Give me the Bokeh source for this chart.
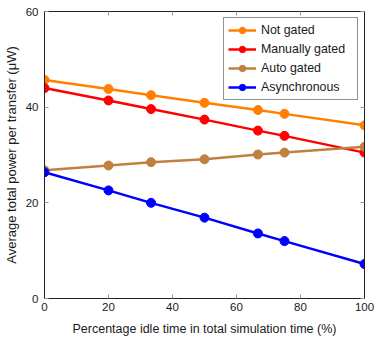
from bokeh.plotting import figure
from bokeh.models import LinearAxis, Legend, LegendItem, Range1d, FixedTicker, CustomJSTickFormatter
from bokeh.embed import file_html
from bokeh.resources import INLINE

x_vals = [0, 20, 33.3, 50, 66.7, 75, 100]
not_gated = [45.7, 43.8, 42.5, 40.9, 39.4, 38.6, 36.2]
manually_gated = [44.0, 41.4, 39.6, 37.4, 35.1, 34.0, 30.5]
auto_gated = [26.8, 27.8, 28.5, 29.1, 30.1, 30.5, 31.7]
asynchronous = [26.4, 22.6, 20.0, 16.9, 13.6, 12.0, 7.2]

series_names = ["Not gated", "Manually gated", "Auto gated", "Asynchronous"]
series_values = [not_gated, manually_gated, auto_gated, asynchronous]
series_colors = ["#FF8000", "#FF0000", "#BF8040", "#0000FF"]

x_ticks = [0, 20, 40, 60, 80, 100]
y_ticks = [0, 20, 40, 60]

FONT = "Liberation Sans"

p = figure(width=375, height=338, output_backend="svg", toolbar_location=None,
           x_range=Range1d(0, 100), y_range=Range1d(0, 60),
           min_border_left=43, min_border_right=11, min_border_top=11, min_border_bottom=40)
p.xgrid.visible = False
p.ygrid.visible = False
p.outline_line_color = "#222222"
p.outline_line_width = 1
p.background_fill_color = "white"
p.border_fill_color = "white"

def style_axis(ax, ticks, show_labels=True):
    ax.ticker = FixedTicker(ticks=ticks)
    ax.major_tick_in = 4
    ax.major_tick_out = 0
    ax.minor_tick_in = 0
    ax.minor_tick_out = 0
    ax.major_tick_line_color = "#999999"
    ax.axis_line_color = "#222222"
    ax.major_label_text_font = FONT
    ax.major_label_text_font_size = "11.5px"
    ax.major_label_text_color = "#1a1a1a"
    ax.axis_label_text_font = FONT
    ax.axis_label_text_font_size = "12.5px"
    ax.axis_label_text_font_style = "normal"
    ax.axis_label_text_color = "#1a1a1a"
    if not show_labels:
        ax.formatter = CustomJSTickFormatter(code="return ''")
        ax.major_label_standoff = 0

style_axis(p.xaxis[0], x_ticks)
style_axis(p.yaxis[0], y_ticks)
p.xaxis[0].axis_label = "Percentage idle time in total simulation time (%)"
p.yaxis[0].axis_label = "Average total power per transfer (μW)"
p.yaxis[0].axis_label_text_font_size = "13px"
p.xaxis[0].major_label_standoff = 4
p.yaxis[0].major_label_standoff = 6
p.xaxis[0].axis_label_standoff = 8
p.yaxis[0].axis_label_standoff = 4

top_ax = LinearAxis()
style_axis(top_ax, x_ticks, show_labels=False)
p.add_layout(top_ax, "above")
right_ax = LinearAxis()
style_axis(right_ax, y_ticks, show_labels=False)
p.add_layout(right_ax, "right")

items = []
for name, vals, col in zip(series_names, series_values, series_colors):
    l = p.line(x_vals, vals, line_color=col, line_width=2.5)
    c = p.scatter(x_vals, vals, size=9, fill_color=col, line_color=col, marker="circle")
    items.append(LegendItem(label=name, renderers=[l, c]))

legend = Legend(items=items, location="top_right")
legend.margin = 6
legend.padding = 4
legend.spacing = 3
legend.glyph_width = 28
legend.glyph_height = 16
legend.label_height = 16
legend.label_width = 92
legend.label_standoff = 5
legend.label_text_font = FONT
legend.label_text_font_size = "12.4px"
legend.label_text_color = "#1a1a1a"
legend.border_line_color = "#222222"
legend.border_line_width = 1
legend.background_fill_alpha = 1
p.add_layout(legend, "center")

open("out.html", "w").write(file_html(p, INLINE))
